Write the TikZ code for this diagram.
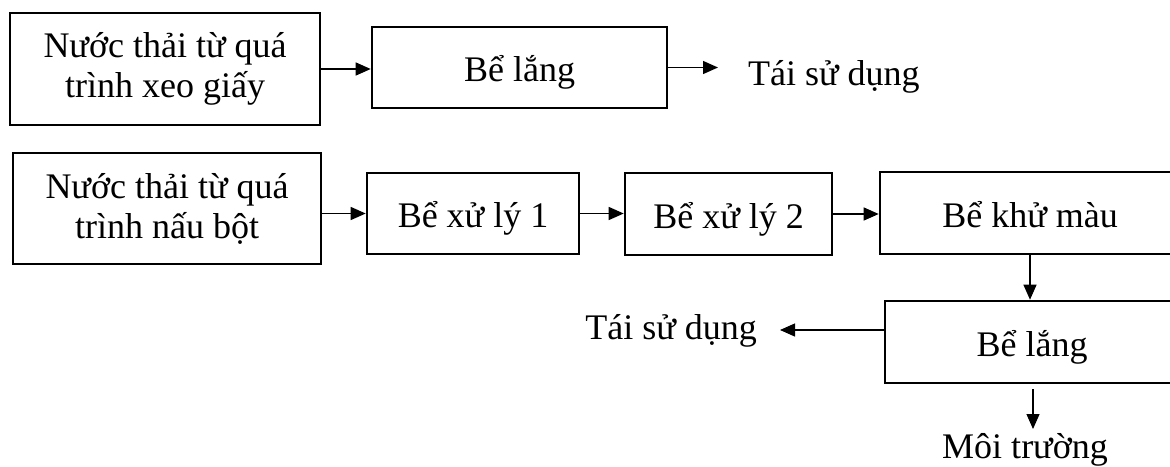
\documentclass[tikz,border=0pt]{standalone}
\usepackage{fontspec}
\setmainfont{Liberation Serif}
\usetikzlibrary{arrows.meta}
\begin{document}
\begin{tikzpicture}[x=1pt,y=-1pt,
  box/.style={draw=black, line width=2.6pt, rectangle, inner sep=0pt,
    align=center, font=\fontsize{36}{40}\selectfont},
  oneline/.style={text height=36pt, text depth=8pt},
  lbl/.style={inner sep=0pt, font=\fontsize{36}{40}\selectfont},
  arr/.style={draw=black, line width=1.3pt, -{Triangle[length=15pt,width=13pt]}}]
\clip (0,0) rectangle (1170,466);

% upper line: paper machine water
\node[box, minimum width=310pt, minimum height=112pt] (A1) at (165,69)
  {Nước thải từ quá\\trình xeo giấy};
\node[box, oneline, minimum width=295pt, minimum height=81pt] (A2) at (519.5,67.5) {Bể lắng};
\node[lbl, anchor=base west] (T1) at (748,85) {Tái sử dụng};
\coordinate (t1tip) at (718,67.5);

\draw[arr] (A1.east) -- (A1.east -| A2.west);
\draw[arr] (A2.east) -- (t1tip);

% lower line: pulping water
\node[box, minimum width=308pt, minimum height=111pt] (B1) at (167,208.5)
  {Nước thải từ quá\\trình nấu bột};
\node[box, oneline, minimum width=212pt, minimum height=81pt] (B2) at (473,213.5) {Bể xử lý 1};
\node[box, oneline, minimum width=207pt, minimum height=82pt] (B3) at (728.5,214) {Bể xử lý 2};
\node[box, oneline, minimum width=300pt, minimum height=82pt] (B4) at (1030,213) {Bể khử màu};
\node[box, oneline, minimum width=294pt, minimum height=82pt] (B5) at (1032,342) {Bể lắng};
\node[lbl, anchor=base east] (T2) at (757,339) {Tái sử dụng};
\node[lbl, anchor=base] (M) at (1025,458) {Môi trường};
\coordinate (t2tip) at (780,330);
\coordinate (mtip) at (1033,429);

\draw[arr] (B1.east |- B2.west) -- (B2.west);
\draw[arr] (B2.east) -- (B2.east -| B3.west);
\draw[arr] (B3.east) -- (B3.east -| B4.west);
\draw[arr] (B4.south) -- (B4.south |- B5.north);
\draw[arr] (B5.west |- t2tip) -- (t2tip);
\draw[arr] (B5.south -| mtip) ++(0,5) -- (mtip);
\end{tikzpicture}
\end{document}
